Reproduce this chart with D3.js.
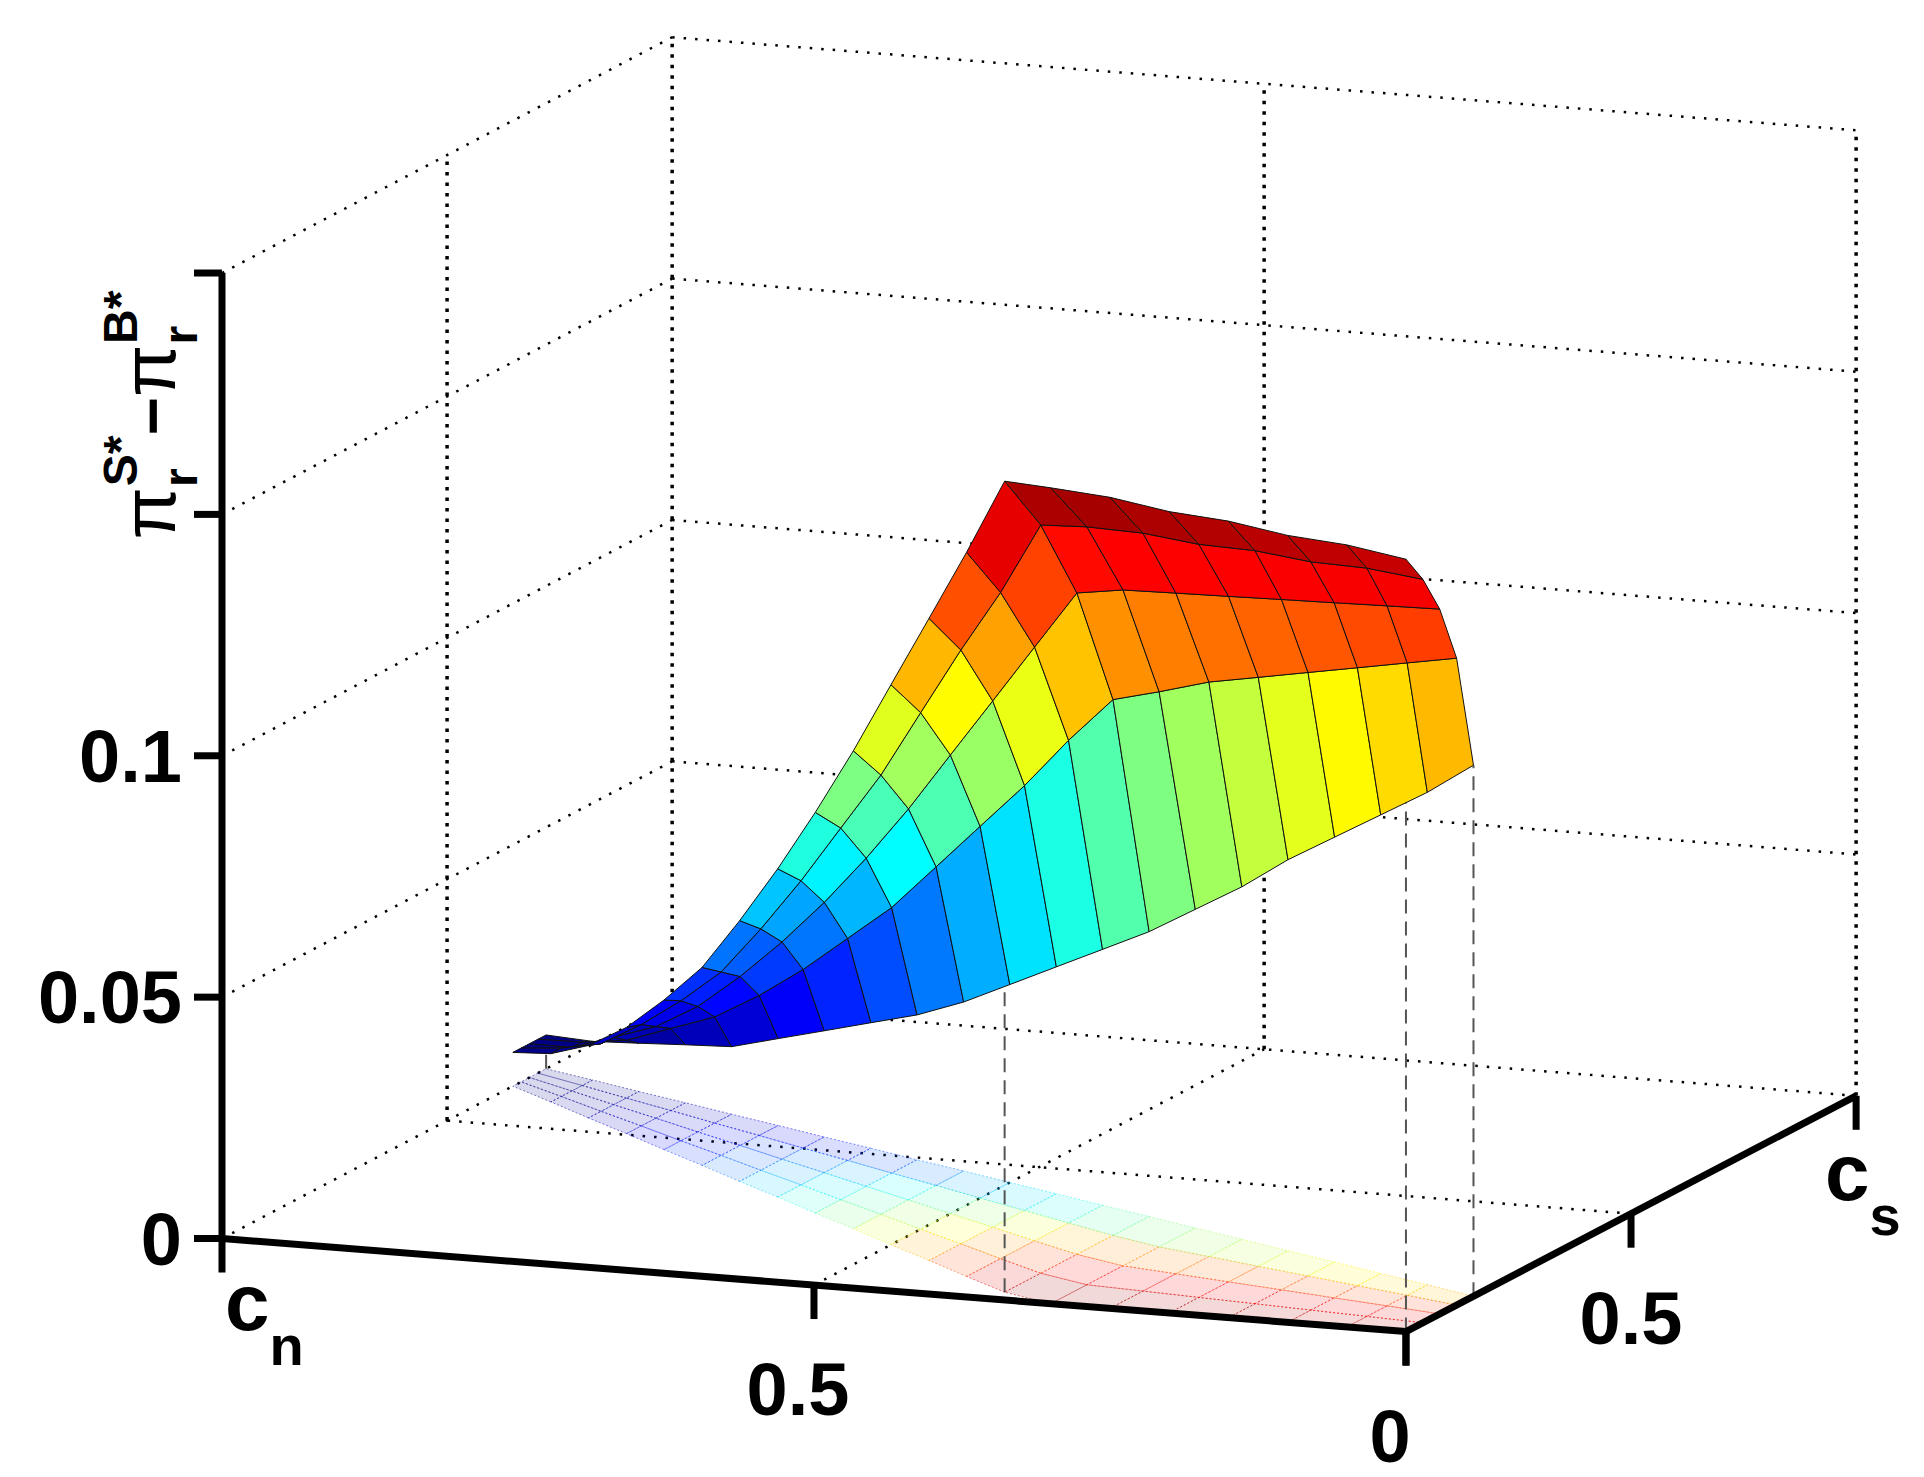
<!DOCTYPE html>
<html><head><meta charset="utf-8">
<script src="https://cdn.jsdelivr.net/npm/d3@7"></script>
<style>body{margin:0;background:#fff}svg{display:block}</style>
</head><body>
<svg id="c" width="1924" height="1477"></svg>
<script>
// ---- data ----
const cnValues = [0,0.05,0.1,0.15,0.2,0.25,0.3,0.35,0.4,0.45,0.5,0.55,0.6,0.65,0.7,0.75,0.8,0.85,0.9,0.95,1];
const csLow  = [0,0,0,0,0,0,0,0.029,0.076,0.124,0.171,0.219,0.266,0.314,0.361,0.409,0.456,0.504,0.551,0.599,0.646];
const csHigh = [0.15,0.179,0.207,0.236,0.264,0.293,0.321,0.35,0.378,0.407,0.435,0.464,0.492,0.521,0.549,0.578,0.606,0.635,0.663,0.692,0.72];
const tValues = [0,0.25,0.5,0.75,1];
const zGrid = [
 [.160,.154,.146,.134,.110],
 [.162,.155,.145,.131,.102],
 [.163,.155,.144,.128,.095],
 [.165,.156,.143,.125,.088],
 [.166,.156,.142,.122,.081],
 [.168,.157,.141,.119,.073],
 [.169,.157,.140,.115,.066],
 [.168,.155,.137,.111,.059],
 [.150,.138,.123,.100,.053],
 [.133,.123,.109,.088,.047],
 [.116,.107,.095,.077,.041],
 [.099,.091,.081,.066,.035],
 [.083,.077,.068,.055,.030],
 [.068,.063,.056,.046,.026],
 [.054,.050,.045,.037,.022],
 [.041,.038,.035,.029,.018],
 [.031,.029,.026,.022,.014],
 [.022,.021,.019,.017,.012],
 [.015,.014,.014,.012,.010],
 [.010,.010,.009,.009,.008],
 [.007,.007,.007,.007,.007]
];
const zTicks = [0,0.05,0.1];
const zTickLabels = ["0","0.05","0.1"];
const cnTicks = [1,0.5,0];
const cnTickLabels = ["","0.5","0"];
const csTicks = [0,0.5,1];
const csTickLabels = ["","0.5",""];

// ---- projection ----
const S=[1.2333,1.241];
const O=[1140*S[0],1073*S[1]];
const cnX=d3.scaleLinear().domain([0,1]).range([0,-960*S[0]]);
const cnY=d3.scaleLinear().domain([0,1]).range([0,-75*S[1]]);
const csX=d3.scaleLinear().domain([0,1]).range([0,365*S[0]]);
const csY=d3.scaleLinear().domain([0,1]).range([0,-190*S[1]]);
const zY=d3.scaleLinear().domain([0,0.2]).range([0,-778*S[1]]);
const P=(cn,cs,z)=>[O[0]+cnX(cn)+csX(cs), O[1]+cnY(cn)+csY(cs)+zY(z)];

function jet(v){
  const f=x=>Math.max(0,Math.min(1,x));
  const r=f(1.5-Math.abs(4*v-3)), g=f(1.5-Math.abs(4*v-2)), b=f(1.5-Math.abs(4*v-1));
  return d3.rgb(r*255,g*255,b*255);
}
const zmin=d3.min(zGrid.flat()), zmax=d3.max(zGrid.flat());
const cnorm=d3.scaleLinear().domain([zmin,zmax]).range([0,1]);

const svg=d3.select("#c");
const line=(a,b,st)=>svg.append("line").attr("x1",a[0]).attr("y1",a[1]).attr("x2",b[0]).attr("y2",b[1]).attr("stroke",st.c||"#000").attr("stroke-width",st.w||2).attr("stroke-dasharray",st.d||null);

const dotH={w:2.5,d:"2.5,9"}, dotV={w:3.5,d:"3.5,7"};
line(P(1,0,0),P(1,1,0),dotH); line(P(0,1,0),P(1,1,0),dotH);
line(P(0.5,0,0),P(0.5,1,0),dotH); line(P(0,0.5,0),P(1,0.5,0),dotH);
[0.05,0.1,0.15,0.2].forEach(z=>{ line(P(1,0,z),P(1,1,z),dotH); line(P(1,1,z),P(0,1,z),dotH); });
line(P(1,0.5,0),P(1,0.5,0.2),dotV); line(P(1,1,0),P(1,1,0.2),dotV);
line(P(0.5,1,0),P(0.5,1,0.2),dotV); line(P(0,1,0),P(0,1,0.2),dotV);

const cells=[];
for(let i=0;i<cnValues.length-1;i++)for(let j=0;j<tValues.length-1;j++){
  const pt=(a,b)=>{const cs=csLow[a]+(csHigh[a]-csLow[a])*tValues[b];return {cn:cnValues[a],cs,z:zGrid[a][b]};};
  cells.push([pt(i,j),pt(i+1,j),pt(i+1,j+1),pt(i,j+1)]);
}
const sh=svg.append("g");
cells.forEach(q=>{
  const c=jet(cnorm(d3.mean(q,d=>d.z)));
  sh.append("path").attr("d","M"+q.map(d=>P(d.cn,d.cs,0)).join("L")+"Z")
    .attr("fill",c).attr("fill-opacity",0.15).attr("stroke",c).attr("stroke-opacity",0.5).attr("stroke-width",1).attr("stroke-dasharray","2,2");
});
const dl={c:"#555",w:2,d:"14,8"};
[[7,0],[0,0],[0,4],[20,4]].forEach(([a,b])=>{
  const cs=csLow[a]+(csHigh[a]-csLow[a])*tValues[b];
  line(P(cnValues[a],cs,0),P(cnValues[a],cs,zGrid[a][b]),dl);
});
const sg=svg.append("g");
cells.map(q=>({q,depth:d3.mean(q,d=>P(d.cn,d.cs,0)[1])})).sort((a,b)=>a.depth-b.depth).forEach(({q})=>{
  sg.append("path").attr("d","M"+q.map(d=>P(d.cn,d.cs,d.z)).join("L")+"Z")
    .attr("fill",jet(cnorm(d3.mean(q,d=>d.z)))).attr("stroke","#111").attr("stroke-width",1).attr("stroke-linejoin","round");
});

const ax={w:7};
line(P(1,0,0),P(1,0,0.2),ax); line(P(1,0,0),P(0,0,0),ax); line(P(0,0,0),P(0,1,0),ax);
const font="Arial, Liberation Sans, sans-serif";
zTicks.concat([0.15,0.2]).forEach(z=>{const p=P(1,0,z); line([p[0]-28,p[1]],[p[0],p[1]],{w:7});});
zTicks.forEach((z,k)=>{const p=P(1,0,z);
  svg.append("text").attr("x",p[0]-40).attr("y",p[1]+26).attr("text-anchor","end").attr("font-family",font).attr("font-weight","bold").attr("font-size",74).text(zTickLabels[k]);});
cnTicks.forEach((c,k)=>{const p=P(c,0,0); line(p,[p[0],p[1]+34],{w:7});
  if(cnTickLabels[k]) svg.append("text").attr("x",p[0]-16).attr("y",p[1]+130).attr("text-anchor","middle").attr("font-family",font).attr("font-weight","bold").attr("font-size",74).text(cnTickLabels[k]);});
csTicks.forEach((c,k)=>{const p=P(0,c,0); line(p,[p[0],p[1]+34],{w:7});
  if(csTickLabels[k]) svg.append("text").attr("x",p[0]).attr("y",p[1]+130).attr("text-anchor","middle").attr("font-family",font).attr("font-weight","bold").attr("font-size",74).text(csTickLabels[k]);});
const t1=svg.append("text").attr("x",225).attr("y",1330).attr("font-family",font).attr("font-weight","bold").attr("font-size",80);
t1.append("tspan").text("c"); t1.append("tspan").attr("font-size",56).attr("dy",35).text("n");
const t2=svg.append("text").attr("x",1825).attr("y",1200).attr("font-family",font).attr("font-weight","bold").attr("font-size",80);
t2.append("tspan").text("c"); t2.append("tspan").attr("font-size",56).attr("dy",35).text("s");
const zl=svg.append("text").attr("transform","translate(175,415) rotate(-90)").attr("text-anchor","middle").attr("font-family",font).attr("font-weight","bold").attr("font-size",66);
zl.append("tspan").attr("font-weight","normal").attr("font-size",76).text("π");
zl.append("tspan").attr("font-size",48).attr("dy",22).text("r");
zl.append("tspan").attr("font-size",48).attr("dy",-60).attr("dx",-18).text("S*");
zl.append("tspan").attr("dy",38).text("−");
zl.append("tspan").attr("font-weight","normal").attr("font-size",76).text("π");
zl.append("tspan").attr("font-size",48).attr("dy",22).text("r");
zl.append("tspan").attr("font-size",48).attr("dy",-60).attr("dx",-18).text("B*");
</script>
</body></html>
